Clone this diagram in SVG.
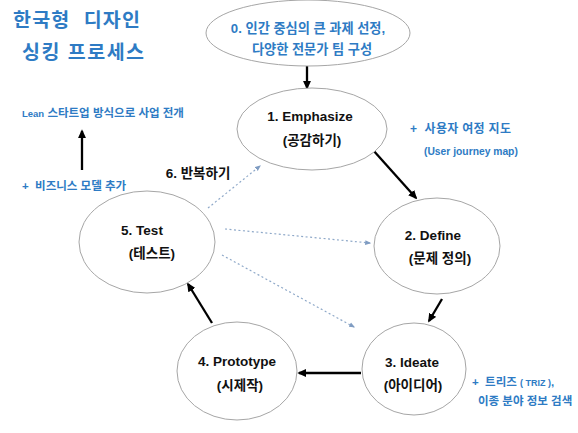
<svg xmlns="http://www.w3.org/2000/svg" width="578" height="433" viewBox="0 0 578 433">
<style>
.node{fill:#fff;stroke:#a6a6a6;stroke-width:1}
.lbl{font-family:"Liberation Sans","Noto Sans CJK KR",sans-serif;font-weight:bold;font-size:13.5px;fill:#111;text-anchor:middle}
.blue{font-family:"Liberation Sans","Noto Sans CJK KR",sans-serif;font-weight:bold;fill:#2E7BC4}
.solid{stroke:#000;stroke-width:2.3;fill:none}
.dash{stroke:#8fa9c9;stroke-width:1.2;stroke-dasharray:2 2.5;fill:none}
</style>
<defs>
<marker id="ah" viewBox="0 0 10 10" refX="8" refY="5" markerWidth="9" markerHeight="9" orient="auto" markerUnits="userSpaceOnUse"><path d="M0,0.5L10,5L0,9.5z" fill="#000"/></marker>
<marker id="ahd" viewBox="0 0 10 10" refX="8" refY="5" markerWidth="6" markerHeight="6" orient="auto" markerUnits="userSpaceOnUse"><path d="M0,1L10,5L0,9z" fill="#7f9cc2"/></marker>
</defs>
<rect width="578" height="433" fill="#fff"/>
<text class="blue" x="13" y="27" font-size="19.5" letter-spacing="1.2" xml:space="preserve">한국형  디자인</text>
<text class="blue" x="22" y="59" font-size="19.5" letter-spacing="1.5" xml:space="preserve">싱킹 프로세스</text>
<g id="connectors">
<line class="solid" x1="307" y1="66" x2="307" y2="88" marker-end="url(#ah)"/>
<line class="solid" x1="373" y1="150" x2="416" y2="198" marker-end="url(#ah)"/>
<line class="solid" x1="442" y1="299" x2="429" y2="321" marker-end="url(#ah)"/>
<line class="solid" x1="361" y1="373" x2="299" y2="373" marker-end="url(#ah)"/>
<line class="solid" x1="212" y1="323" x2="188" y2="284" marker-end="url(#ah)"/>
<line class="solid" x1="82" y1="170" x2="82" y2="131" marker-end="url(#ah)"/>
<line class="dash" x1="208" y1="208" x2="260" y2="166" marker-end="url(#ahd)"/>
<line class="dash" x1="225" y1="229" x2="370" y2="243" marker-end="url(#ahd)"/>
<line class="dash" x1="222" y1="255" x2="354" y2="327" marker-end="url(#ahd)"/>
</g>
<g id="node0">
<ellipse class="node" cx="308" cy="33" rx="102" ry="33"/>
<text class="blue" x="308" y="33" font-size="13.2" text-anchor="middle">0. 인간 중심의 큰 과제 선정,</text>
<text class="blue" x="312" y="54" font-size="13.2" text-anchor="middle">다양한 전문가 팀 구성</text>
</g>
<g id="node1">
<ellipse class="node" cx="312" cy="129" rx="75" ry="41"/>
<text class="lbl" x="310" y="121">1. Emphasize</text>
<text class="lbl" x="312" y="145">(공감하기)</text>
</g>
<g id="node2">
<ellipse class="node" cx="437" cy="246" rx="63" ry="48"/>
<text class="lbl" x="433" y="240">2. Define</text>
<text class="lbl" x="440" y="263">(문제 정의)</text>
</g>
<g id="node3">
<ellipse class="node" cx="414" cy="369" rx="52" ry="46"/>
<text class="lbl" x="412" y="367">3. Ideate</text>
<text class="lbl" x="413" y="390">(아이디어)</text>
</g>
<g id="node4">
<ellipse class="node" cx="237" cy="371" rx="60" ry="49"/>
<text class="lbl" x="237" y="366">4. Prototype</text>
<text class="lbl" x="240" y="390">(시제작)</text>
</g>
<g id="node5">
<ellipse class="node" cx="147" cy="242" rx="68" ry="51"/>
<text class="lbl" x="142" y="235">5. Test</text>
<text class="lbl" x="152" y="258">(테스트)</text>
</g>
<g id="notes">
<text class="lbl" x="198" y="178" font-size="13.5">6. 반복하기</text>
<text class="blue" x="22" y="117" font-size="11.5"><tspan font-size="9.5">Lean</tspan> 스타트업 방식으로 사업 전개</text>
<text class="blue" x="22" y="190" font-size="11.5" xml:space="preserve">+  비즈니스 모델 추가</text>
<text class="blue" x="410" y="133" font-size="12" letter-spacing="0.3" xml:space="preserve">+  사용자 여정 지도</text>
<text class="blue" x="424" y="155" font-size="10.3">(User journey map)</text>
<text class="blue" x="472" y="386" font-size="11.5" xml:space="preserve">+  트리즈 <tspan font-size="9">( TRIZ )</tspan>,</text>
<text class="blue" x="478" y="405" font-size="11.5">이종 분야 정보 검색</text>
</g>
</svg>
